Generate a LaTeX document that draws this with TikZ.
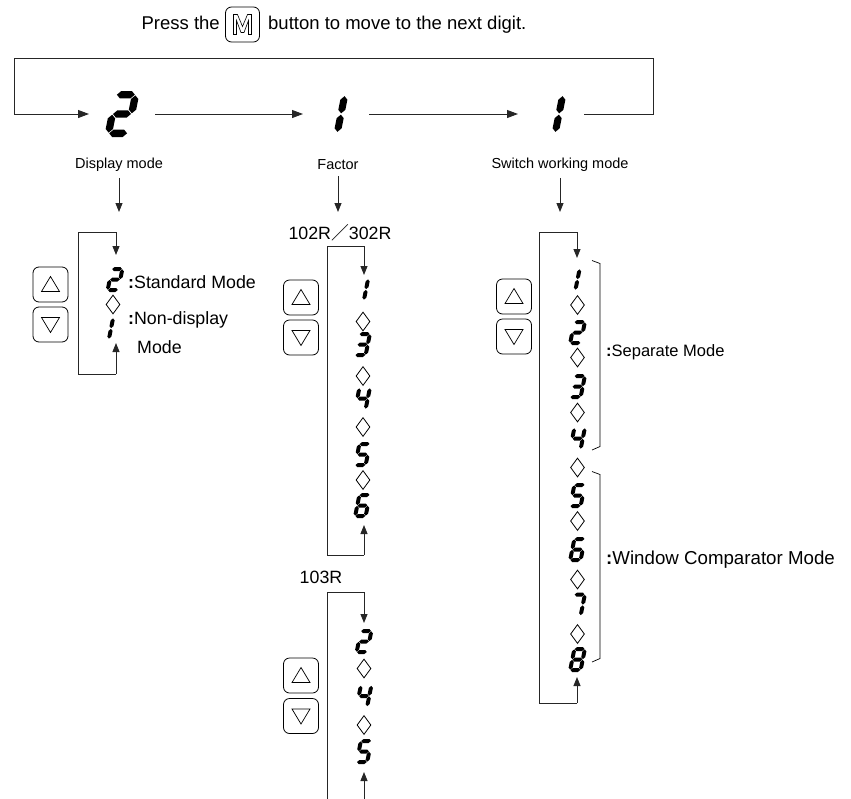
\documentclass[tikz,border=0pt]{standalone}
\usepackage{fontspec}
\setmainfont{Liberation Sans}
\newfontfamily\cjkfont{Noto Sans CJK SC}
\usetikzlibrary{arrows.meta,shapes.geometric}

% seven-segment pieces (local units: digit height = 1, y downwards)
\newcommand\hsg[1]{\fill (-0.195,#1) -- (-0.115,{#1-0.08}) -- (0.115,{#1-0.08}) -- (0.195,#1) -- (0.115,{#1+0.08}) -- (-0.115,{#1+0.08}) -- cycle;}
\newcommand\vsg[3]{\fill (#1,{#2+0.015}) -- ({#1+0.08},{#2+0.095}) -- ({#1+0.08},{#3-0.095}) -- (#1,{#3-0.015}) -- ({#1-0.08},{#3-0.095}) -- ({#1-0.08},{#2+0.095}) -- cycle;}
\newcommand\ssgA{\hsg{-0.42}}
\newcommand\ssgG{\hsg{0}}
\newcommand\ssgD{\hsg{0.42}}
\newcommand\ssgF{\vsg{-0.21}{-0.42}{0}}
\newcommand\ssgB{\vsg{0.21}{-0.42}{0}}
\newcommand\ssgE{\vsg{-0.21}{0}{0.42}}
\newcommand\ssgC{\vsg{0.21}{0}{0.42}}
\newcommand\ssgP{\vsg{0}{-0.42}{0}}
\newcommand\ssgQ{\vsg{0}{0}{0.42}}
\newcommand\sevenseg[3]{\begin{scope}[shift={(#1)},xslant=0.2,scale=#2]\foreach \s in {#3}{\csname ssg\s\endcsname}\end{scope}}
\newcommand\uptri[1]{\draw[tri] ([shift={(0,-8)}]#1.center) -- ([shift={(9,7)}]#1.center) -- ([shift={(-9,7)}]#1.center) -- cycle;}
\newcommand\dntri[1]{\draw[tri] ([shift={(0,8)}]#1.center) -- ([shift={(9,-7)}]#1.center) -- ([shift={(-9,-7)}]#1.center) -- cycle;}

\begin{document}
\begin{tikzpicture}[x=1pt,y=-1pt,
  ln/.style={line width=0.9pt,draw=black!85},
  arr/.style={ln,-{Triangle[length=9pt,width=7pt]}},
  tarr/.style={ln,-{Triangle[length=11pt,width=8pt]}},
  btn/.style={draw,line width=0.8pt,rounded corners=6pt,minimum width=35pt,minimum height=35pt,inner sep=0pt},
  tri/.style={line width=0.7pt},
  lbl/.style={font=\fontsize{17.8}{21}\selectfont,inner sep=0pt},
  tlbl/.style={font=\fontsize{14.5}{17}\selectfont,inner sep=0pt},
  slbl/.style={font=\fontsize{18.5}{22}\selectfont,inner sep=0pt},
  dmd/.style={diamond,draw,line width=0.8pt,minimum width=14pt,minimum height=19pt,inner sep=0pt},
  dg/.style={minimum width=18pt,minimum height=25pt,inner sep=0pt,outer sep=0pt},
  tcell/.style={minimum width=66pt,minimum height=46pt,inner sep=0pt,outer sep=0pt},
  brk/.style={line width=0.7pt}]
\useasboundingbox (0,0) rectangle (851,798);

% ---- top sentence
\node[slbl,anchor=base east] (p1) at (220,29) {Press the};
\node[btn,minimum width=34pt] (mb) at (242.5,24.5) {};
\draw[line width=0.6pt] ([shift={(-9,10)}]mb.center) -- ([shift={(-9,-10)}]mb.center) -- ([shift={(-5,-10)}]mb.center) -- ([shift={(0,2)}]mb.center) -- ([shift={(5,-10)}]mb.center) -- ([shift={(9,-10)}]mb.center) -- ([shift={(9,10)}]mb.center) -- ([shift={(6,10)}]mb.center) -- ([shift={(6,-4)}]mb.center) -- ([shift={(1.5,8)}]mb.center) -- ([shift={(-1.5,8)}]mb.center) -- ([shift={(-6,-4)}]mb.center) -- ([shift={(-6,10)}]mb.center) -- cycle;
\node[slbl,anchor=base west] (p2) at (268,29) {button to move to the next digit.};

% ---- top loop
\coordinate (lpL) at (14,58);
\coordinate (lpR) at (653,58);
\node[tcell] (t1) at (122,114) {};
\node[tcell] (t2) at (336,114) {};
\node[tcell] (t3) at (551,114) {};
\sevenseg{t1.center}{46}{A,B,G,E,D}
\sevenseg{[xshift=5pt]t2.center}{44}{P,Q}
\sevenseg{[xshift=8pt]t3.center}{44}{P,Q}
\draw[tarr] (t1.east) -- (t2.west);
\draw[tarr] (t2.east) -- (t3.west);
\draw[tarr] (t3.east) -- (t3.east -| lpR) -- (lpR) -- (lpL) -- (lpL |- t1.west) -- (t1.west);

% ---- labels and down arrows
\node[tlbl] (l1) at (119,165) {Display mode};
\node[tlbl] (l2) at (338,165) {Factor};
\node[tlbl] (l3) at (560,165) {Switch working mode};
\coordinate (a1) at (119,212);
\coordinate (a2) at (338,212);
\coordinate (a3) at (560,212);
\draw[arr,shorten <=6pt] (l1) -- (a1);
\draw[arr,shorten <=6pt] (l2) -- (a2);
\draw[arr,shorten <=6pt] (l3) -- (a3);

% ---- left column (Display mode)
\coordinate (Lb) at (116,374);
\coordinate (Lbl) at (78,374);
\coordinate (Ltl) at (78,232);
\coordinate (Lt) at (116,232);
\node[dg] (L1) at (115,279.5) {};
\node[dmd] (Lm1) at (113,304.5) {};
\node[dg] (L2) at (111,328.5) {};
\sevenseg{L1.center}{25}{A,B,G,E,D}
\sevenseg{L2.center}{25}{P,Q}
\draw[arr,shorten >=12pt] (Lb) -- (Lbl) -- (Ltl) -- (Lt) -- (Lt |- L1.north);
\draw[arr,shorten >=2pt] (Lb) -- (Lb |- L2.south);
\node[btn] (Lu) at (50.5,284.5) {};
\node[btn] (Ld) at (50.5,324.5) {};
\uptri{Lu}
\dntri{Ld}
\node[lbl,anchor=west] (Ls) at (128,282) {\textbf{:}Standard Mode};
\node[lbl,anchor=west] (Ln) at (128,320) {\textbf{:}Non-display};
\node[lbl,anchor=west] (Ln2) at (137,347) {Mode};

% ---- middle column, 102R/302R
\node[lbl] (f1) at (340,233) {102R{\cjkfont ／}302R};
\coordinate (Mb) at (364,555);
\coordinate (Mbl) at (327,555);
\coordinate (Mtl) at (327,246);
\coordinate (Mt) at (364,246);
\node[dg] (M1) at (366,289.5) {};
\node[dmd] (Mm1) at (363,321.5) {};
\node[dg] (M2) at (362.5,344.5) {};
\node[dmd] (Mm2) at (363,376) {};
\node[dg] (M3) at (362.5,398.5) {};
\node[dmd] (Mm3) at (363,427) {};
\node[dg] (M4) at (362.5,454.5) {};
\node[dmd] (Mm4) at (363,480) {};
\node[dg] (M5) at (362.5,505.5) {};
\sevenseg{M1.center}{25}{P,Q}
\sevenseg{M2.center}{25}{A,B,G,C,D}
\sevenseg{M3.center}{25}{F,G,B,C}
\sevenseg{M4.center}{25}{A,F,G,C,D}
\sevenseg{M5.center}{25}{A,F,G,E,D,C}
\draw[arr,shorten >=2pt] (Mb) -- (Mbl) -- (Mtl) -- (Mt) -- (Mt |- M1.north);
\draw[arr,shorten >=7pt] (Mb) -- (Mb |- M5.south);
\node[btn] (Mu) at (301,297.5) {};
\node[btn] (Md) at (301,337.5) {};
\uptri{Mu}
\dntri{Md}

% ---- middle column, 103R
\node[lbl] (f2) at (321,577) {103R};
\coordinate (Nb) at (364,805);
\coordinate (Nbl) at (327,805);
\coordinate (Ntl) at (327,592);
\coordinate (Nt) at (364,592);
\node[dg] (N1) at (364,641.5) {};
\node[dmd] (Nm1) at (364,668.5) {};
\node[dg] (N2) at (364,696) {};
\node[dmd] (Nm2) at (364,725) {};
\node[dg] (N3) at (364,751.5) {};
\sevenseg{N1.center}{25}{A,B,G,E,D}
\sevenseg{N2.center}{25}{F,G,B,C}
\sevenseg{N3.center}{25}{A,F,G,C,D}
\draw[arr,shorten >=6pt] (Nbl) -- (Ntl) -- (Nt) -- (Nt |- N1.north);
\draw[arr,shorten >=8pt] (Nb) -- (Nb |- N3.south);
\node[btn] (Nu) at (301,675.5) {};
\node[btn] (Nd) at (301,716) {};
\uptri{Nu}
\dntri{Nd}

% ---- right column (Switch working mode)
\coordinate (Rb) at (577,703);
\coordinate (Rbl) at (539,703);
\coordinate (Rtl) at (539,232);
\coordinate (Rt) at (577,232);
\node[dg] (R1) at (577.5,279.5) {};
\node[dmd] (Rm1) at (577.5,305) {};
\node[dg] (R2) at (577.5,332.5) {};
\node[dmd] (Rm2) at (577.5,357.5) {};
\node[dg] (R3) at (577.5,386.5) {};
\node[dmd] (Rm3) at (577.5,412.5) {};
\node[dg] (R4) at (577.5,438.5) {};
\node[dmd] (Rm4) at (577.5,467.5) {};
\node[dg] (R5) at (577.5,495.5) {};
\node[dmd] (Rm5) at (577.5,521) {};
\node[dg] (R6) at (577.5,549.5) {};
\node[dmd] (Rm6) at (577.5,579.5) {};
\node[dg] (R7) at (577.5,605) {};
\node[dmd] (Rm7) at (577.5,634) {};
\node[dg] (R8) at (577.5,659.5) {};
\sevenseg{R1.center}{25}{P,Q}
\sevenseg{R2.center}{25}{A,B,G,E,D}
\sevenseg{R3.center}{25}{A,B,G,C,D}
\sevenseg{R4.center}{25}{F,G,B,C}
\sevenseg{R5.center}{25}{A,F,G,C,D}
\sevenseg{R6.center}{25}{A,F,G,E,D,C}
\sevenseg{R7.center}{25}{A,B,C}
\sevenseg{R8.center}{25}{A,B,C,D,E,F,G}
\draw[arr,shorten >=9pt] (Rb) -- (Rbl) -- (Rtl) -- (Rt) -- (Rt |- R1.north);
\draw[arr,shorten >=5pt] (Rb) -- (Rb |- R8.south);
\node[btn] (Ru) at (514,296.5) {};
\node[btn] (Rd) at (514,336.5) {};
\uptri{Ru}
\dntri{Rd}
\draw[brk] (592,260.5) -- (600,263.5) -- (600,446.5) -- (592,450);
\draw[brk] (592,471.5) -- (600,474.5) -- (600,658.5) -- (592,662);
\node[lbl,anchor=west,font=\fontsize{16.5}{20}\selectfont] (Rs) at (606,352) {\textbf{:}Separate Mode};
\node[lbl,anchor=west,font=\fontsize{18.7}{22}\selectfont] (Rw) at (606,560) {\textbf{:}Window Comparator Mode};
\end{tikzpicture}
\end{document}
